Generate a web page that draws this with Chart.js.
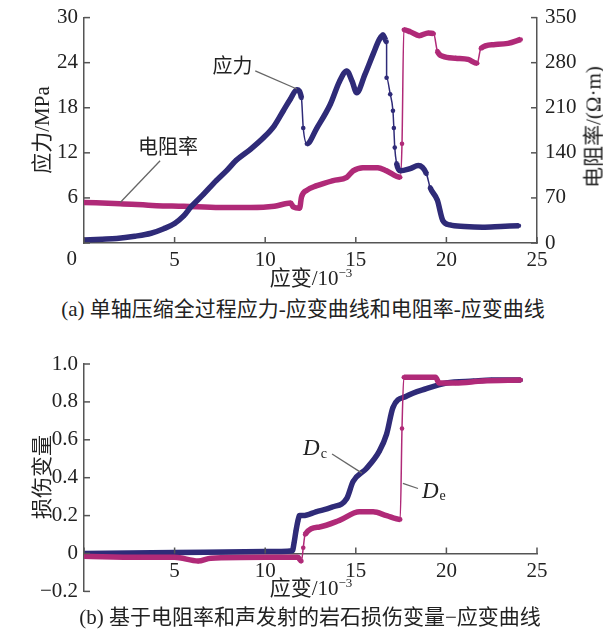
<!DOCTYPE html>
<html>
<head>
<meta charset="utf-8">
<script src="https://cdn.jsdelivr.net/npm/chart.js@4.4.1/dist/chart.umd.min.js"></script>
<style>
body{margin:0;background:#fff;width:603px;height:633px;position:relative;overflow:hidden;font-family:'Liberation Serif','Noto Sans CJK SC',serif;color:#222;}
canvas{position:absolute;left:0;}
.txt{position:absolute;white-space:nowrap;font-size:21px;line-height:1;transform:translate(-50%,-50%);}
.rot{transform:translate(-50%,-50%) rotate(-90deg);}
sup{font-size:13px;vertical-align:0;position:relative;top:-8px;}
</style>
</head>
<body>
<canvas id="chartA" width="603" height="293" style="top:-3px;width:603px;height:293px"></canvas>
<canvas id="chartB" width="603" height="270" style="top:340px;width:603px;height:270px"></canvas>

<div class="txt rot" style="left:42px;top:130px">应力/MPa</div>
<div class="txt rot" style="left:594px;top:127px">电阻率/(Ω·m)</div>
<div class="txt" style="left:311px;top:278px">应变/10<sup>−3</sup></div>
<div class="txt" style="left:303px;top:309px">(a) 单轴压缩全过程应力-应变曲线和电阻率-应变曲线</div>

<div class="txt rot" style="left:42px;top:477px">损伤变量</div>
<div class="txt" style="left:311px;top:588px">应变/10<sup>−3</sup></div>
<div class="txt" style="left:310px;top:617px">(b) 基于电阻率和声发射的岩石损伤变量−应变曲线</div>

<script>
"use strict";

// (a) stress - strain
var strainS = [0, 1, 1.8, 2.8, 3.7, 4.4, 5.0, 5.5, 5.9, 6.6, 7.3, 7.9, 8.4, 9.2, 9.9, 10.5, 11.0, 11.4, 11.75, 12.0, 12.1, 12.3, 12.85, 13.6, 14.1, 14.5, 14.8, 15.05, 15.5, 15.95, 16.3, 16.5, 16.7, 16.7, 16.9, 17.05, 17.1, 17.15, 17.25, 17.45, 18.0, 18.45, 18.9, 19.1, 19.5, 19.8, 20.2, 21, 22, 23, 24.0];
var stress  = [0.4, 0.5, 0.6, 0.9, 1.3, 1.9, 2.6, 3.6, 4.8, 6.5, 8.3, 9.7, 11.0, 12.5, 14.0, 15.6, 17.6, 19.2, 20.4, 19.3, 15.3, 13.2, 15.3, 18.5, 21.5, 22.9, 21.5, 20.0, 22.4, 25.1, 27.1, 27.7, 26.8, 22.0, 19.8, 17.6, 15.3, 12.7, 10.6, 9.6, 9.9, 10.3, 9.2, 7.4, 5.7, 3.0, 2.4, 2.2, 2.1, 2.2, 2.3];

// (a) resistivity - strain
var strainR = [0, 2, 4, 5.5, 7.5, 9.2, 10.5, 11.4, 11.55, 11.9, 12.0, 12.3, 12.85, 13.75, 14.5, 14.85, 15.4, 16.2, 16.7, 17.45, 17.55, 17.65, 18.0, 18.5, 19.0, 19.3, 19.5, 19.8, 20.5, 21.2, 21.7, 21.9, 22.6, 23.4, 24.1];
var resist  = [63, 61, 58, 57, 55, 55, 57, 62, 56, 54, 71, 82, 89, 97, 102, 112, 117, 117, 112, 102, 154, 331, 328, 322, 326, 325, 298, 290, 287, 285, 279, 302, 308, 310, 316];

// (b) damage variables
var strainDc = [0, 5, 10, 11.5, 11.6, 11.7, 11.8, 11.9, 12.1, 12.8, 13.7, 14.5, 14.85, 15.6, 16.3, 16.7, 17.05, 17.8, 18.9, 20, 21.5, 22.5, 24.1];
var damageC  = [0.0, 0.005, 0.01, 0.015, 0.06, 0.12, 0.17, 0.2, 0.2, 0.22, 0.245, 0.29, 0.38, 0.45, 0.54, 0.63, 0.77, 0.83, 0.87, 0.9, 0.91, 0.915, 0.915];
var strainDe = [0, 3, 5, 6.3, 7, 10, 11.8, 12.0, 12.1, 12.2, 13.0, 14.1, 15.2, 15.95, 16.7, 17.45, 17.55, 17.65, 18.5, 19.4, 19.6, 20.5, 22, 24.1];
var damageE  = [-0.015, -0.02, -0.02, -0.04, -0.025, -0.02, -0.02, -0.04, 0.03, 0.1, 0.14, 0.175, 0.22, 0.22, 0.2, 0.18, 0.66, 0.93, 0.93, 0.93, 0.9, 0.9, 0.91, 0.915];

var strainTicks = [0, 5, 10, 15, 20, 25];
var stressTicks = [0, 6, 12, 18, 24, 30];
var resistTicks = [0, 70, 140, 210, 280, 350];
var damageTicks = [-0.2, 0, 0.2, 0.4, 0.6, 0.8, 1.0];

var NAVY = '#2f2b78';
var MAGENTA = '#b02a78';
var AXIS = '#555';
var TEXT = '#222';
var NUMFONT = {family: "'Liberation Serif', serif", size: 21};

function pts(xs, ys){
    return xs.map(function(x, i){ return {x: x, y: ys[i]}; });
}

// near-vertical jumps are thin lines with dots, the rest is a thick band
function segWidth(ctx){
    var dx = Math.abs(ctx.p1.x - ctx.p0.x);
    var dy = Math.abs(ctx.p1.y - ctx.p0.y);
    return (dy > 12 && dx < 4) ? 1.5 : 5.5;
}

function series(data, color, axis){
    return {
        data: data,
        yAxisID: axis,
        borderColor: color,
        backgroundColor: color,
        borderWidth: 5.5,
        pointRadius: 2.3,
        pointBorderWidth: 0,
        pointHoverRadius: 0,
        cubicInterpolationMode: 'monotone',
        segment: {borderWidth: segWidth}
    };
}

function setTicks(arr){
    return function(scale){
        scale.ticks = arr.map(function(v){ return {value: v}; });
    };
}

function fmtDamage(v){
    if (Math.abs(v) < 1e-9) return '0';
    if (v < 0) return '−' + Math.abs(v).toFixed(1);
    return v.toFixed(1);
}

// inward tick marks, leader labels
var axisDeco = {
    id: 'axisDeco',
    afterDraw: function(chart, args, opts){
        var c = chart.ctx, s = chart.scales;
        c.save();
        c.strokeStyle = AXIS;
        c.lineWidth = 1.5;
        Object.keys(s).forEach(function(id){
            var sc = s[id];
            var pos = sc.options.position;
            sc.ticks.forEach(function(t){
                var p = sc.getPixelForValue(t.value);
                c.beginPath();
                if (sc.isHorizontal()){
                    var yb = sc.top;
                    if (typeof pos === 'object'){
                        var k = Object.keys(pos)[0];
                        yb = s[k].getPixelForValue(pos[k]);
                    }
                    c.moveTo(p, yb); c.lineTo(p, yb - 6);
                } else if (pos === 'left'){
                    c.moveTo(sc.right, p); c.lineTo(sc.right + 6, p);
                } else {
                    c.moveTo(sc.left, p); c.lineTo(sc.left - 6, p);
                }
                c.stroke();
            });
        });

        if (opts.origin){
            c.fillStyle = TEXT;
            c.font = "21px 'Liberation Serif', serif";
            c.textAlign = 'right';
            c.textBaseline = 'middle';
            c.fillText('0', s.y.right - 7, s.x.top + 16);
        }

        (opts.notes || []).forEach(function(n){
            var xs = s.x, ys = s.y;
            c.strokeStyle = '#666';
            c.lineWidth = 1.3;
            c.beginPath();
            c.moveTo(xs.getPixelForValue(n.line[0][0]), ys.getPixelForValue(n.line[0][1]));
            c.lineTo(xs.getPixelForValue(n.line[1][0]), ys.getPixelForValue(n.line[1][1]));
            c.stroke();
            var tx = xs.getPixelForValue(n.x), ty = ys.getPixelForValue(n.y);
            c.fillStyle = TEXT;
            c.textBaseline = 'middle';
            if (n.sub){
                c.textAlign = 'left';
                c.font = "italic 23px 'Liberation Serif', serif";
                c.fillText(n.text, tx, ty);
                var w = c.measureText(n.text).width;
                c.font = "14px 'Liberation Serif', serif";
                c.fillText(n.sub, tx + w + 1, ty + 5);
            } else {
                c.textAlign = 'center';
                c.font = "20px 'Noto Sans CJK SC', sans-serif";
                c.fillText(n.text, tx, ty);
            }
        });
        c.restore();
    }
};

var xAxis = {
    type: 'linear',
    min: 0, max: 25,
    afterBuildTicks: setTicks(strainTicks),
    grid: {drawOnChartArea: false, drawTicks: false},
    border: {color: AXIS, width: 1.5},
    ticks: {
        color: TEXT, font: NUMFONT, padding: 5, maxRotation: 0,
        callback: function(v){ return v === 0 ? '' : v; }
    }
};

new Chart(document.getElementById('chartA'), {
    type: 'line',
    data: {
        datasets: [
            series(pts(strainS, stress), NAVY, 'y'),
            series(pts(strainR, resist), MAGENTA, 'y1')
        ]
    },
    options: {
        responsive: false,
        animation: false,
        layout: {padding: {top: 13, left: 0, right: 0, bottom: 0}},
        plugins: {
            legend: {display: false},
            tooltip: {enabled: false},
            axisDeco: {
                origin: true,
                notes: [
                    {text: '应力', x: 8.2, y: 23.6, line: [[9.45, 22.9], [11.75, 20.5]]},
                    {text: '电阻率', x: 4.64, y: 12.9, line: [[4.2, 10.95], [2.0, 5.4]]}
                ]
            }
        },
        scales: {
            x: Object.assign({}, xAxis, {
                position: 'bottom',
                afterFit: function(sc){ sc.height = 47; }
            }),
            y: {
                position: 'left',
                min: 0, max: 30,
                afterBuildTicks: setTicks(stressTicks),
                afterFit: function(sc){ sc.width = 84; },
                grid: {drawOnChartArea: false, drawTicks: false},
                border: {color: AXIS, width: 1.5},
                ticks: {
                    color: TEXT, font: NUMFONT, padding: 6,
                    callback: function(v){ return v === 0 ? '' : v; }
                }
            },
            y1: {
                position: 'right',
                min: 0, max: 350,
                afterBuildTicks: setTicks(resistTicks),
                afterFit: function(sc){ sc.width = 66; },
                grid: {drawOnChartArea: false, drawTicks: false},
                border: {color: AXIS, width: 1.5},
                ticks: {color: TEXT, font: NUMFONT, padding: 8}
            }
        }
    },
    plugins: [axisDeco]
});

new Chart(document.getElementById('chartB'), {
    type: 'line',
    data: {
        datasets: [
            series(pts(strainDe, damageE), MAGENTA, 'y'),
            series(pts(strainDc, damageC), NAVY, 'y')
        ]
    },
    options: {
        responsive: false,
        animation: false,
        layout: {padding: {top: 24, left: 0, right: 66, bottom: 0}},
        plugins: {
            legend: {display: false},
            tooltip: {enabled: false},
            axisDeco: {
                notes: [
                    {text: 'D', sub: 'c', x: 12.09, y: 0.552, line: [[13.69, 0.525], [15.34, 0.424]]},
                    {text: 'D', sub: 'e', x: 18.65, y: 0.327, line: [[17.6, 0.37], [18.43, 0.343]]}
                ]
            }
        },
        scales: {
            x: Object.assign({}, xAxis, {position: {y: 0}}),
            y: {
                position: 'left',
                min: -0.2, max: 1.0,
                afterBuildTicks: setTicks(damageTicks),
                afterFit: function(sc){ sc.width = 84; },
                grid: {drawOnChartArea: false, drawTicks: false},
                border: {color: AXIS, width: 1.5},
                ticks: {color: TEXT, font: NUMFONT, padding: 6, callback: fmtDamage}
            }
        }
    },
    plugins: [axisDeco]
});
</script>
</body>
</html>
